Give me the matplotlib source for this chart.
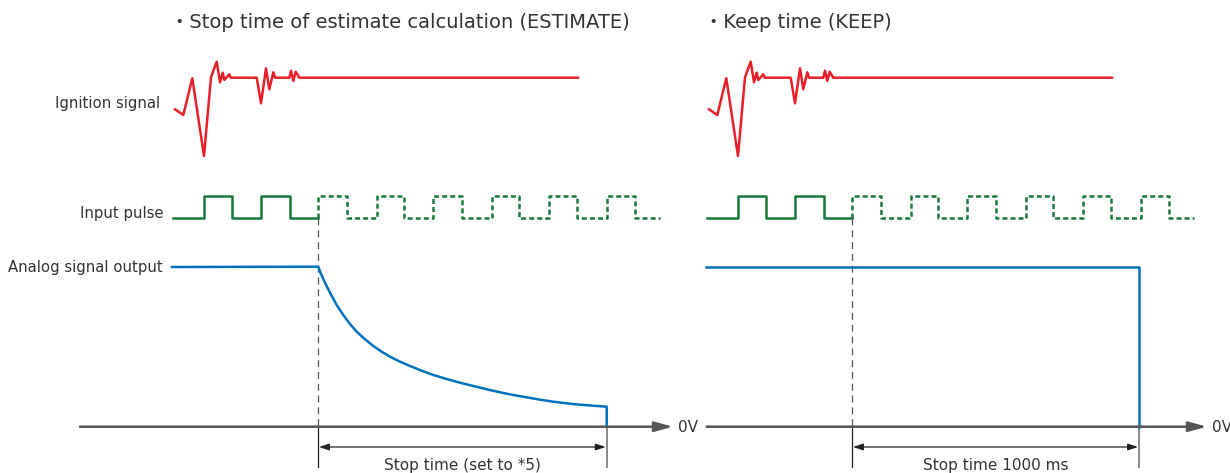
import matplotlib
matplotlib.use("Agg")
import matplotlib.pyplot as plt
import numpy as np

plt.rcParams['font.family'] = ['DejaVu Sans', 'Noto Sans CJK JP']
plt.rcParams['lines.scale_dashes'] = False

# ================= DATA (pixel coordinates of the diagram) =================
panel_offsets = [0, 534]
titles = ["・Stop time of estimate calculation (ESTIMATE)", "・Keep time (KEEP)"]
row_labels = ["Ignition signal", "Input pulse", "Analog signal output"]
span_labels = ["Stop time (set to *5)", "Stop time 1000 ms"]

# ignition signal trace (left panel)
ign_x = [175, 183.3, 192.3, 204, 211, 216.7, 220, 222.7, 224.3, 229.3, 230.7, 256.7,
         261, 266, 269.3, 273.3, 275, 289.3, 291, 293.3, 295.7, 299.3, 578]
ign_y = [109.3, 115, 78.3, 156, 77.3, 61.7, 82.3, 72.7, 80, 74.3, 77.7, 77.7,
         103.3, 68.3, 89.3, 72.3, 77.7, 77.7, 70.7, 81, 71.7, 77.7, 77.7]

# input pulse: edges where the level toggles
pulse_start, pulse_end = 173, 660
pulse_low, pulse_high = 217.7, 195.7
solid_edges = [204, 232, 261, 290]
stop_x = 318  # pulse stops here (last real edge)
ghost_edges = [318, 347, 377, 404, 433, 462, 492, 519, 549, 577, 607, 635]

# analog output
analog_level = 267
analog_start = 172
decay_x = [318.3, 320.7, 325, 330, 336.7, 343.3, 350, 356.7, 365, 373.3, 381.7, 390,
           400, 410, 421.7, 433.3, 446.7, 460, 473.3, 486.7, 500, 513.3, 526.7, 540,
           553.3, 566.7, 580, 593.3, 606.7]
decay_y = [266.7, 273.3, 282.7, 292.7, 305, 315, 324, 331.7, 339.3, 346, 351.7, 356.7,
           361.7, 366, 370.7, 375, 379, 382.7, 386, 389.3, 392.3, 395, 397.3, 399.7,
           401.7, 403.3, 404.7, 405.7, 406.7]
keep_end_x = 1139  # right panel absolute

# 0V axis
axis_y = 426.7
axis_starts = [80, 706.7]
axis_ends = [673, 1207]
stop_ends = [606.7, 1139]

RED = "#e8202a"
GREEN = "#16793a"
BLUE = "#0071bc"
GRAY = "#555555"
TXT = "#333333"
LW = 1.8

fig = plt.figure(figsize=(12.3, 4.73), dpi=100)
ax = fig.add_axes([0, 0, 1, 1])
ax.set_xlim(0, 1230)
ax.set_ylim(473, 0)
ax.axis("off")


def step_path(x0, x1, edges, start_level, other_level):
    xs, ys = [x0], [start_level]
    lvl = start_level
    for e in edges:
        xs.append(e); ys.append(lvl)
        lvl = other_level if lvl == start_level else start_level
        xs.append(e); ys.append(lvl)
    xs.append(x1); ys.append(lvl)
    return xs, ys


for i, off in enumerate(panel_offsets):
    # title
    ax.text(170 + off, 22, titles[i], fontsize=14, color=TXT, ha="left", va="center")

    # ignition
    ax.plot(np.array(ign_x) + off, ign_y, color=RED, lw=LW)

    # pulse solid
    xs, ys = step_path(pulse_start, stop_x, solid_edges, pulse_low, pulse_high)
    ax.plot(np.array(xs) + off, ys, color=GREEN, lw=LW)
    # pulse ghost (dotted)
    xs, ys = step_path(stop_x, pulse_end, ghost_edges, pulse_low, pulse_high)
    ax.plot(np.array(xs[1:]) + off, ys[1:], color=GREEN, lw=LW, dashes=(3.6, 2.2))

    # vertical guide at pulse stop
    ax.plot([stop_x + off, stop_x + off], [pulse_low, axis_y], color=GRAY, lw=0.9, dashes=(5, 3.5))
    ax.plot([stop_x + off, stop_x + off], [axis_y, 467], color="#222222", lw=0.9)
    ax.plot([stop_ends[i], stop_ends[i]], [axis_y, 467], color="#777777", lw=1.2)

    # 0V axis
    ax.annotate("", xy=(axis_ends[i], axis_y), xytext=(axis_starts[i], axis_y),
                arrowprops=dict(arrowstyle="-|>,head_length=1.1,head_width=0.3",
                                color=GRAY, lw=LW, shrinkA=0, shrinkB=0))
    ax.text(axis_ends[i] + 5, axis_y + 1, "0V", fontsize=11, color=TXT, ha="left", va="center")

    # stop time span arrow
    ax.annotate("", xy=(stop_ends[i] - 1, 447), xytext=(stop_x + off + 1, 447),
                arrowprops=dict(arrowstyle="<|-|>,head_length=0.6,head_width=0.2",
                                color="#222222", lw=0.9, shrinkA=0, shrinkB=0))
    ax.text((stop_x + off + stop_ends[i]) / 2, 465, span_labels[i], fontsize=11,
            color=TXT, ha="center", va="center")

# analog output, estimate panel
ax.plot([analog_start] + decay_x + [decay_x[-1]],
        [analog_level] + decay_y + [axis_y], color=BLUE, lw=LW)
# analog output, keep panel
ax.plot([analog_start + panel_offsets[1], keep_end_x, keep_end_x],
        [analog_level, analog_level, axis_y], color=BLUE, lw=LW)

# row labels
ax.text(160, 103, row_labels[0], fontsize=10.7, color=TXT, ha="right", va="center")
ax.text(163, 213, row_labels[1], fontsize=10.7, color=TXT, ha="right", va="center")
ax.text(163, 267, row_labels[2], fontsize=10.7, color=TXT, ha="right", va="center")

fig.savefig("out.png", dpi=100)
